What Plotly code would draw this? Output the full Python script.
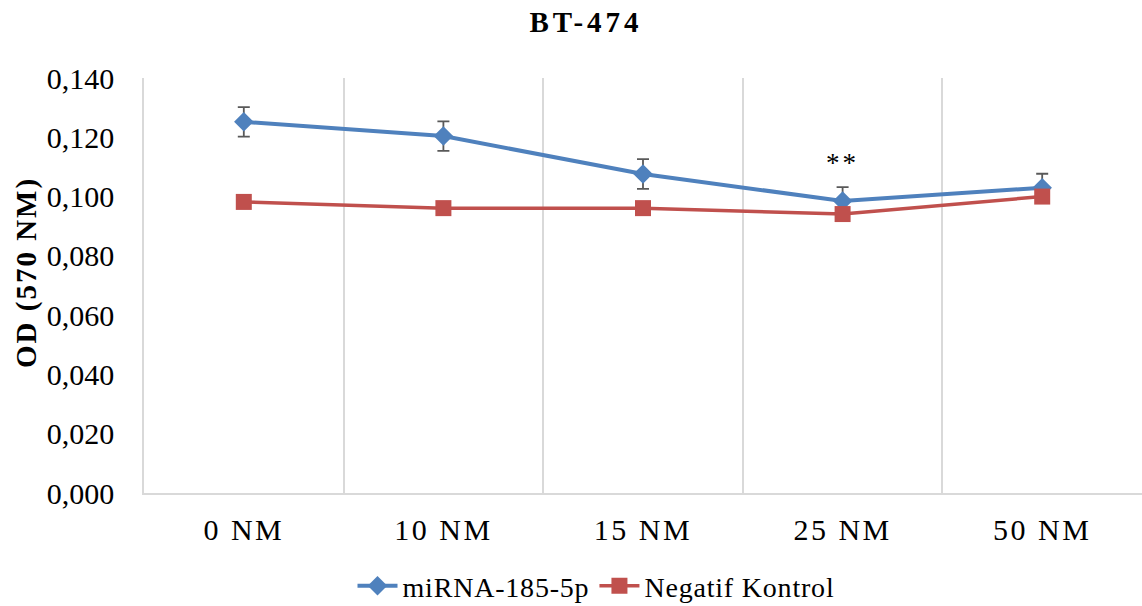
import plotly.graph_objects as go

categories = ["0 NM", "10 NM", "15 NM", "25 NM", "50 NM"]
mirna = [0.1252, 0.1204, 0.1076, 0.0985, 0.1030]
mirna_err = [0.0050, 0.0050, 0.0050, 0.0047, 0.0047]
negatif = [0.0982, 0.0961, 0.0961, 0.0941, 0.1000]
y_ticks = [0, 0.02, 0.04, 0.06, 0.08, 0.10, 0.12, 0.14]
series_names = ["miRNA-185-5p", "Negatif Kontrol"]

FONT = "Liberation Serif, Times New Roman, serif"
BLUE = "#4F81BD"
RED = "#C0504D"


def ls(s, px, bold=False):
    w = ";font-weight:bold" if bold else ""
    return '<span style="letter-spacing:%spx%s">%s</span>' % (px, w, s)


fig = go.Figure()
fig.add_trace(go.Scatter(
    x=categories, y=mirna, name=ls(series_names[0], 0.8), mode="lines+markers",
    line=dict(color=BLUE, width=4),
    marker=dict(symbol="diamond", size=15, color=BLUE),
    error_y=dict(type="data", array=mirna_err, visible=True, color="#595959", thickness=1.8, width=6),
))
fig.add_trace(go.Scatter(
    x=categories, y=negatif, name=ls(series_names[1], 0.8), mode="lines+markers",
    line=dict(color=RED, width=3.5),
    marker=dict(symbol="square", size=16, color=RED),
))

fig.add_annotation(x=categories[3], y=0.1113, text=ls("**", 3), showarrow=False,
                   font=dict(family=FONT, size=27, color="black"), yanchor="middle")
fig.add_annotation(xref="paper", yref="paper", x=(26 - 144) / 998, y=(493 - 273) / 415,
                   xanchor="center", yanchor="middle",
                   text=ls("OD (570 NM)", 2, bold=True), textangle=-90, showarrow=False,
                   font=dict(family=FONT, size=29, color="black", weight="bold"))

fig.update_layout(
    width=1142, height=606,
    margin=dict(l=144, r=0, t=78, b=113),
    paper_bgcolor="white", plot_bgcolor="white",
    separators=",.",
    title=dict(text=ls("BT-474", 4, bold=True), x=586 / 1142, xref="container", xanchor="center",
               y=1 - 22 / 606, yref="container", yanchor="middle",
               font=dict(family=FONT, size=29, color="black", weight="bold")),
    font=dict(family=FONT, color="black"),
    showlegend=True,
    legend=dict(orientation="h", xref="container", x=596 / 1142, xanchor="center",
                yref="container", y=1 - 586 / 606, yanchor="middle",
                font=dict(family=FONT, size=28, color="black"),
                itemwidth=40, tracegroupgap=0),
)
fig.update_xaxes(
    type="category", range=[-0.5, 4.5], tickson="boundaries",
    tickvals=categories, ticktext=[ls(c, 2.5) for c in categories],
    showgrid=True, gridcolor="#D9D9D9", gridwidth=1.5,
    showline=True, linecolor="#D9D9D9", linewidth=1.5,
    ticks="", ticklabelstandoff=9,
    tickfont=dict(family=FONT, size=30, color="black"),
    zeroline=False,
)
fig.update_yaxes(
    range=[0, 0.14], tickvals=y_ticks, tickformat=".3f",
    showgrid=False, zeroline=False,
    showline=True, linecolor="#D9D9D9", linewidth=1.5,
    ticks="", ticklabelstandoff=22,
    tickfont=dict(family=FONT, size=30, color="black"),
)

fig.write_html("out.html")
